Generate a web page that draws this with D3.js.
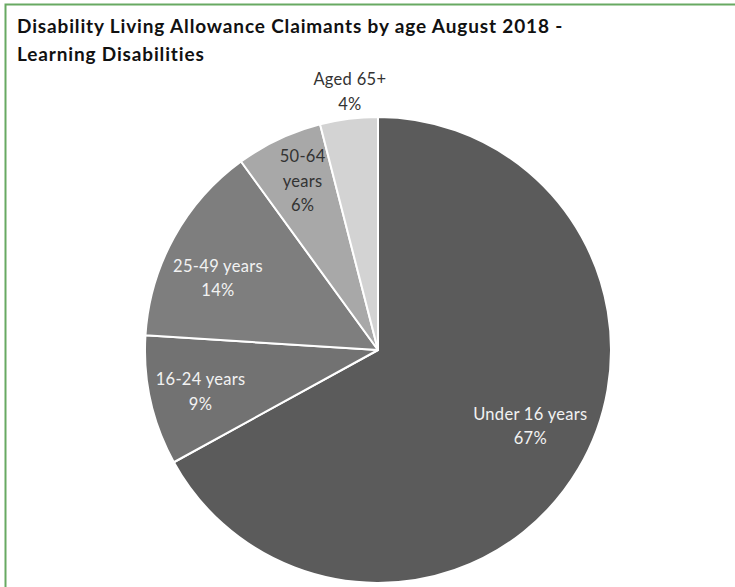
<!DOCTYPE html>
<html>
<head>
<meta charset="utf-8">
<script src="https://cdn.jsdelivr.net/npm/d3@7"></script>
<style>
  html, body { margin: 0; padding: 0; background: #fff; }
  svg { display: block; }
  text { font-family: Lato, "Open Sans", sans-serif; }
</style>
</head>
<body>
<svg id="chart" width="735" height="587"></svg>
<script>
// Age bands and their share of claimants (%)
const categories = ["Under 16 years", "16-24 years", "25-49 years", "50-64 years", "Aged 65+"];
const shares = [67, 9, 14, 6, 4];
const sliceColors = ["#5b5b5b", "#727272", "#7e7e7e", "#a8a8a8", "#d3d3d3"];
const labelColors = ["#f2f2f2", "#f2f2f2", "#f2f2f2", "#333333", "#333333"];
// label line breaks per slice
const labelLines = [
  ["Under 16 years"], ["16-24 years"], ["25-49 years"], ["50-64", "years"], ["Aged 65+"]
];
const titleLines = ["Disability Living Allowance Claimants by age August 2018 -", "Learning Disabilities"];

const svg = d3.select("#chart");
const W = 735, H = 587;

// chart frame
svg.append("rect")
  .attr("x", 5.5).attr("y", 4.5)
  .attr("width", W + 20).attr("height", H + 20)
  .attr("fill", "none")
  .attr("stroke", "#68a962")
  .attr("stroke-width", 2);

// title
const title = svg.append("text")
  .attr("x", 17)
  .attr("font-weight", 700)
  .attr("font-size", 19)
  .attr("letter-spacing", 0.85)
  .attr("fill", "#111");
title.selectAll("tspan").data(titleLines).join("tspan")
  .attr("x", 17)
  .attr("y", (d, i) => 33 + i * 27.5)
  .text(d => d);

// pie
const cx = 378, cy = 350, r = 233;
const pie = d3.pie().sort(null).value(d => d)(shares);
const arc = d3.arc().innerRadius(0).outerRadius(r);

const g = svg.append("g").attr("transform", `translate(${cx},${cy})`);
g.selectAll("path").data(pie).join("path")
  .attr("d", arc)
  .attr("fill", (d, i) => sliceColors[i])
  .attr("stroke", "#ffffff")
  .attr("stroke-width", 2)
  .attr("stroke-linejoin", "round");

// label placement: radius fraction along the slice bisector, plus a nudge
const labelPos = [
  { k: 0.6, dx: 32, dy: 6 },
  { k: 0.82, dx: 9, dy: 1 },
  { k: 0.72, dx: -13, dy: 10 },
  { k: 0.75, dx: -1, dy: -10 },
  { k: 1.17, dx: 6, dy: 13 }
];
const lineH = 24.5;

pie.forEach((d, i) => {
  const mid = (d.startAngle + d.endAngle) / 2;
  const lines = labelLines[i].concat([d3.format("d")(shares[i]) + "%"]);
  const rr = r * labelPos[i].k;
  const x = Math.sin(mid) * rr + labelPos[i].dx;
  const y = -Math.cos(mid) * rr + labelPos[i].dy;
  const t = g.append("text")
    .attr("text-anchor", "middle")
    .attr("font-size", 16.5)
    .attr("letter-spacing", 0.3)
    .attr("fill", labelColors[i]);
  const y0 = y - (lines.length - 1) * lineH / 2 + 5;
  t.selectAll("tspan").data(lines).join("tspan")
    .attr("x", x)
    .attr("y", (s, j) => y0 + j * lineH)
    .text(s => s);
});
</script>
</body>
</html>
